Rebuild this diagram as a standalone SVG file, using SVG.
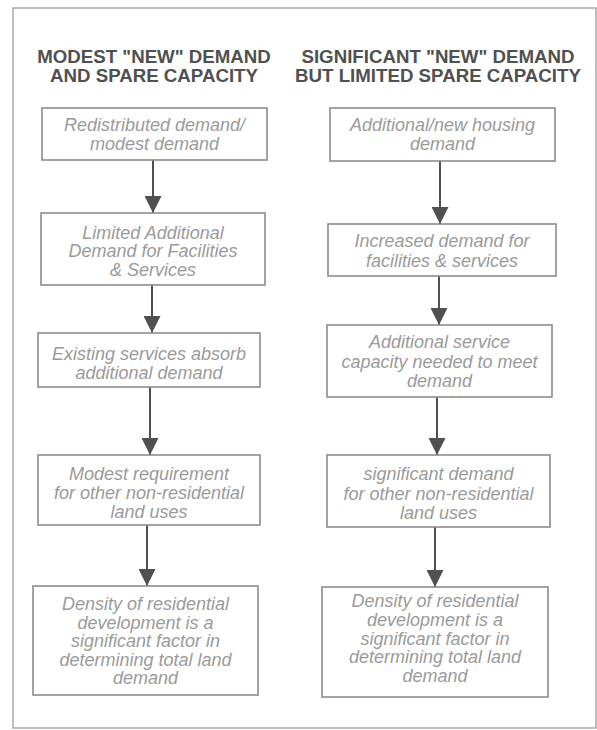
<svg xmlns="http://www.w3.org/2000/svg" width="597" height="730" viewBox="0 0 597 730">
<style>
.frame{fill:none;stroke:#a8a8a8;stroke-width:1.5}
.box{fill:#ffffff;stroke:#8c8c8c;stroke-width:1.6}
.hd{font-family:"Liberation Sans",Arial,sans-serif;font-weight:bold;font-size:18.7px;fill:#505050;text-anchor:middle}
.bt{font-family:"Liberation Sans",Arial,sans-serif;font-style:italic;font-size:18px;fill:#9a9a9a;text-anchor:middle}
.arr{stroke:#505050;stroke-width:2;fill:none;marker-end:url(#ah)}
</style>
<defs>
<marker id="ah" markerUnits="userSpaceOnUse" viewBox="0 0 17 17" markerWidth="17" markerHeight="17" refX="17" refY="8.5" orient="auto">
<path d="M0,0 L17,8.5 L0,17 z" fill="#505050"/>
</marker>
</defs>
<rect width="597" height="730" fill="#ffffff"/>
<rect class="frame" x="13" y="8" width="583" height="720"/>
<g id="header-left">
<text class="hd" x="154" y="63">MODEST "NEW" DEMAND</text>
<text class="hd" x="154" y="82">AND SPARE CAPACITY</text>
</g>
<g id="header-right">
<text class="hd" x="438" y="63">SIGNIFICANT "NEW" DEMAND</text>
<text class="hd" x="438" y="82">BUT LIMITED SPARE CAPACITY</text>
</g>
<g id="connectors">
<line class="arr" x1="153" y1="160" x2="153" y2="213"/>
<line class="arr" x1="152" y1="285" x2="152" y2="333"/>
<line class="arr" x1="150" y1="387" x2="150" y2="455"/>
<line class="arr" x1="147" y1="525" x2="147" y2="586"/>
<line class="arr" x1="440" y1="161" x2="440" y2="224"/>
<line class="arr" x1="439" y1="276" x2="439" y2="325"/>
<line class="arr" x1="437" y1="397" x2="437" y2="455"/>
<line class="arr" x1="435" y1="527" x2="435" y2="587"/>
</g>
<g id="l1">
<rect class="box" x="42" y="108" width="225" height="52"/>
<text class="bt" x="154.5" y="131">Redistributed demand/</text>
<text class="bt" x="154.5" y="150">modest demand</text>
</g>
<g id="l2">
<rect class="box" x="41" y="213" width="224" height="72"/>
<text class="bt" x="153" y="238.5">Limited Additional</text>
<text class="bt" x="153" y="257">Demand for Facilities</text>
<text class="bt" x="153" y="275.5">&amp; Services</text>
</g>
<g id="l3">
<rect class="box" x="38" y="333" width="222" height="54"/>
<text class="bt" x="149" y="360">Existing services absorb</text>
<text class="bt" x="149" y="378.5">additional demand</text>
</g>
<g id="l4">
<rect class="box" x="38" y="455" width="222" height="70"/>
<text class="bt" x="149" y="480">Modest requirement</text>
<text class="bt" x="149" y="499">for other non-residential</text>
<text class="bt" x="149" y="518">land uses</text>
</g>
<g id="l5">
<rect class="box" x="33" y="586" width="225" height="109"/>
<text class="bt" x="145.5" y="610">Density of residential</text>
<text class="bt" x="145.5" y="628.5">development is a</text>
<text class="bt" x="145.5" y="647">significant factor in</text>
<text class="bt" x="145.5" y="665.5">determining total land</text>
<text class="bt" x="145.5" y="684">demand</text>
</g>
<g id="r1">
<rect class="box" x="330" y="108" width="225" height="53"/>
<text class="bt" x="442.5" y="131">Additional/new housing</text>
<text class="bt" x="442.5" y="150">demand</text>
</g>
<g id="r2">
<rect class="box" x="328" y="224" width="228" height="52"/>
<text class="bt" x="442" y="247">Increased demand for</text>
<text class="bt" x="442" y="267">facilities &amp; services</text>
</g>
<g id="r3">
<rect class="box" x="327" y="325" width="225" height="72"/>
<text class="bt" x="439.5" y="348">Additional service</text>
<text class="bt" x="439.5" y="368">capacity needed to meet</text>
<text class="bt" x="439.5" y="387">demand</text>
</g>
<g id="r4">
<rect class="box" x="327" y="455" width="223" height="72"/>
<text class="bt" x="438.5" y="480">significant demand</text>
<text class="bt" x="438.5" y="500">for other non-residential</text>
<text class="bt" x="438.5" y="519">land uses</text>
</g>
<g id="r5">
<rect class="box" x="322" y="587" width="226" height="110"/>
<text class="bt" x="435" y="607">Density of residential</text>
<text class="bt" x="435" y="625.5">development is a</text>
<text class="bt" x="435" y="644.5">significant factor in</text>
<text class="bt" x="435" y="663">determining total land</text>
<text class="bt" x="435" y="682">demand</text>
</g>
</svg>
